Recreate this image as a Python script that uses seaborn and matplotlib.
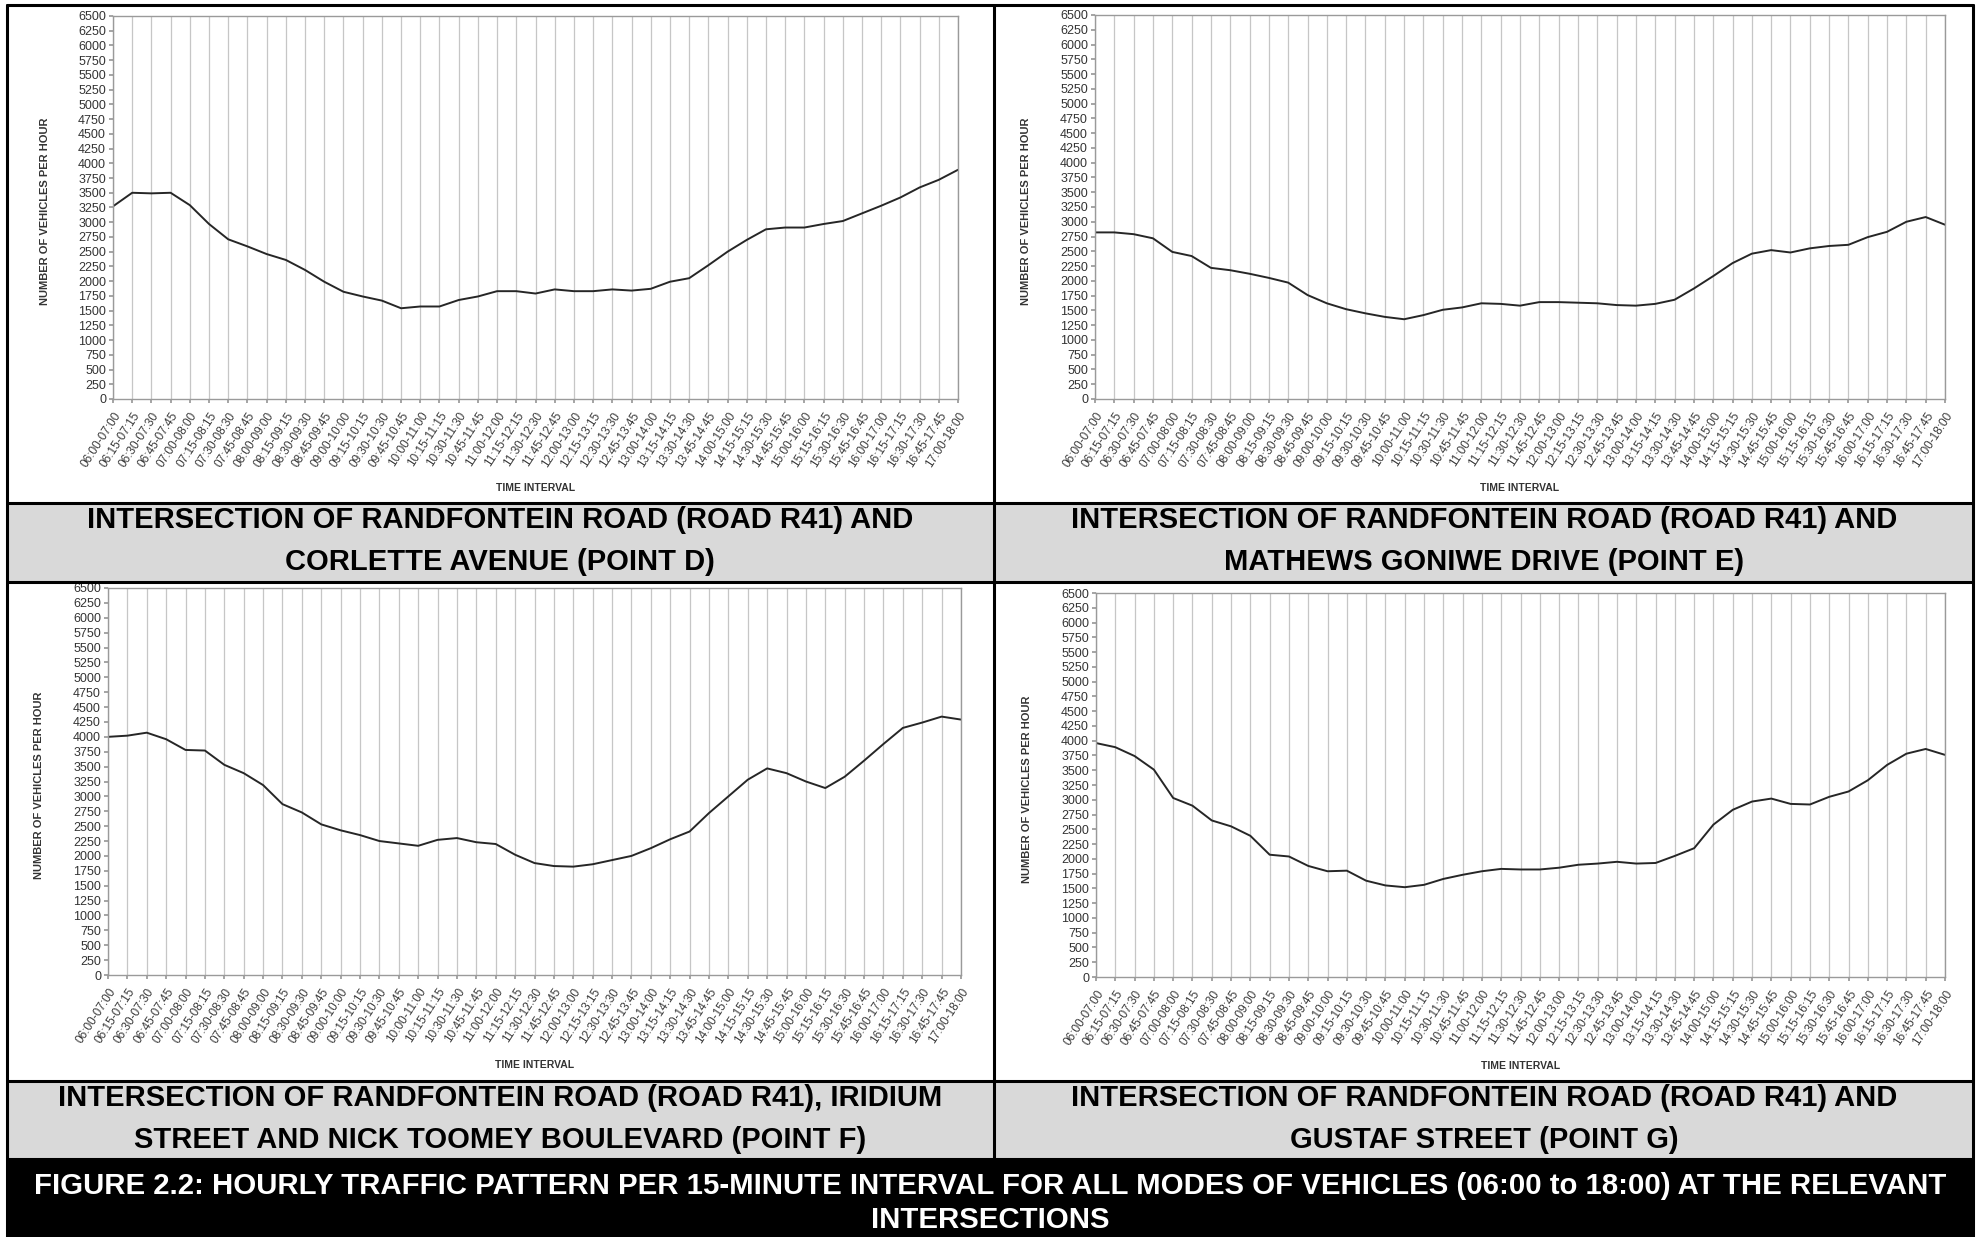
import numpy as np
import matplotlib
matplotlib.use("Agg")
import matplotlib.pyplot as plt
from matplotlib.lines import Line2D
from matplotlib.patches import Rectangle
import seaborn as sns

sns.set_theme(style="white")
plt.rcParams["font.family"] = ["Liberation Sans", "DejaVu Sans"]

# 15-minute start slots, each label is a rolling one-hour window
start_times = ["%02d:%02d" % (6 + m // 60, m % 60) for m in range(0, 11 * 60 + 1, 15)]
end_times = ["%02d:%02d" % (7 + m // 60, m % 60) for m in range(0, 11 * 60 + 1, 15)]
intervals = [a + "-" + b for a, b in zip(start_times, end_times)]

# vehicles per hour
point_d = [3270, 3500, 3490, 3500, 3290, 2970, 2710, 2590, 2460, 2360,
           2190, 1990, 1820, 1740, 1670, 1540, 1570, 1570, 1680, 1740,
           1830, 1830, 1790, 1860, 1830, 1830, 1860, 1840, 1870, 1990,
           2050, 2270, 2500, 2700, 2880, 2910, 2910, 2970, 3020, 3150,
           3280, 3420, 3590, 3720, 3890]
point_e = [2820, 2820, 2790, 2720, 2490, 2420, 2220, 2180, 2120, 2050,
           1970, 1760, 1620, 1520, 1450, 1390, 1350, 1420, 1510, 1550,
           1620, 1610, 1580, 1640, 1640, 1630, 1620, 1590, 1580, 1610,
           1680, 1870, 2080, 2300, 2460, 2520, 2480, 2550, 2590, 2610,
           2740, 2830, 3000, 3080, 2950]
point_f = [4000, 4020, 4070, 3960, 3780, 3770, 3530, 3390, 3190, 2870,
           2730, 2530, 2430, 2350, 2250, 2210, 2170, 2270, 2300, 2230,
           2200, 2020, 1880, 1830, 1820, 1860, 1930, 2000, 2130, 2280,
           2410, 2720, 3000, 3280, 3470, 3390, 3250, 3140, 3330, 3600,
           3880, 4150, 4240, 4340, 4290]
point_g = [3960, 3890, 3740, 3510, 3030, 2900, 2650, 2550, 2390, 2070,
           2040, 1880, 1790, 1800, 1630, 1550, 1520, 1560, 1660, 1730,
           1790, 1830, 1820, 1820, 1850, 1900, 1920, 1950, 1920, 1930,
           2050, 2180, 2580, 2830, 2970, 3020, 2930, 2920, 3050, 3140,
           3330, 3590, 3780, 3860, 3760]

captions = [
    "INTERSECTION OF RANDFONTEIN ROAD (ROAD R41) AND\nCORLETTE AVENUE (POINT D)",
    "INTERSECTION OF RANDFONTEIN ROAD (ROAD R41) AND\nMATHEWS GONIWE DRIVE (POINT E)",
    "INTERSECTION OF RANDFONTEIN ROAD (ROAD R41), IRIDIUM\nSTREET AND NICK TOOMEY BOULEVARD (POINT F)",
    "INTERSECTION OF RANDFONTEIN ROAD (ROAD R41) AND\nGUSTAF STREET (POINT G)",
]
figure_title = ("FIGURE 2.2: HOURLY TRAFFIC PATTERN PER 15-MINUTE INTERVAL FOR ALL MODES OF "
                "VEHICLES (06:00 to 18:00) AT THE RELEVANT\nINTERSECTIONS")

W, H = 1978, 1237
fig = plt.figure(figsize=(W / 100, H / 100), dpi=100)
fig.patch.set_facecolor("white")


def fx(px):
    return px / W


def fy(py):
    return 1 - py / H


def box(l, t, r, b):
    return [fx(l), fy(b), (r - l) / W, (b - t) / H]


# grey caption bands and black figure band behind everything
for top, bot in [(503, 582), (1081, 1159)]:
    fig.add_artist(Rectangle((fx(7), fy(bot)), fx(1973) - fx(7), fy(top) - fy(bot),
                             transform=fig.transFigure, facecolor="#d9d9d9",
                             edgecolor="none", zorder=0))
fig.add_artist(Rectangle((fx(7), 0), fx(1973) - fx(7), fy(1159),
                         transform=fig.transFigure, facecolor="black",
                         edgecolor="none", zorder=0))

# table rules
rules = [
    ((7, 1973), (5, 5)),
    ((7, 7), (5, 1237)),
    ((1973, 1973), (5, 1237)),
    ((994, 994), (5, 1159)),
    ((7, 1973), (503, 503)),
    ((7, 1973), (582, 582)),
    ((7, 1973), (1081, 1081)),
    ((7, 1973), (1159, 1159)),
]
for xs, ys in rules:
    fig.add_artist(Line2D([fx(x) for x in xs], [fy(y) for y in ys],
                          transform=fig.transFigure, color="black", lw=2.2, zorder=5))

panels = [
    (point_d, box(113, 16, 958, 399)),
    (point_e, box(1095, 15, 1945, 399)),
    (point_f, box(108, 588, 961, 975)),
    (point_g, box(1096, 593, 1945, 977)),
]

slots = np.arange(len(intervals))
for values, rect in panels:
    ax = fig.add_axes(rect)
    sns.lineplot(x=slots, y=values, ax=ax, color="#262626", linewidth=1.4)
    ax.set_xlim(0, len(intervals) - 1)
    ax.set_ylim(0, 6500)
    ax.set_yticks(range(0, 6501, 250))
    ax.set_xticks(slots)
    ax.set_xticklabels(intervals, rotation=57, ha="right", rotation_mode="anchor",
                       fontsize=8.5, color="#3a3a3a")
    ax.tick_params(axis="y", labelsize=9, labelcolor="#333333", length=3,
                   color="#999999", pad=2, left=True)
    ax.tick_params(axis="x", length=3, color="#999999", pad=5, bottom=True)
    ax.grid(axis="x", color="#c6c6c6", linewidth=0.9)
    ax.grid(axis="y", visible=False)
    for sp in ax.spines.values():
        sp.set_color("#9a9a9a")
        sp.set_linewidth(1.0)
    ax.set_ylabel("NUMBER OF VEHICLES PER HOUR", fontsize=8, fontweight="bold",
                  color="#333333")
    ax.yaxis.set_label_coords(-0.075, 0.49)
    ax.set_xlabel("TIME INTERVAL", fontsize=7.5, fontweight="bold", color="#333333")
    ax.xaxis.set_label_coords(0.5, -0.22)

# captions
cap_pos = [(500, 541), (1484, 541), (500, 1119), (1484, 1119)]
for (cx, cy), text in zip(cap_pos, captions):
    fig.text(fx(cx), fy(cy), text, ha="center", va="center", fontsize=21,
             fontweight="bold", color="black", linespacing=1.6, zorder=6)

fig.text(fx(990), fy(1203), figure_title, ha="center", va="center", fontsize=21.2,
         fontweight="bold", color="white", linespacing=1.3, zorder=6)

fig.savefig("out.png", dpi=100)
